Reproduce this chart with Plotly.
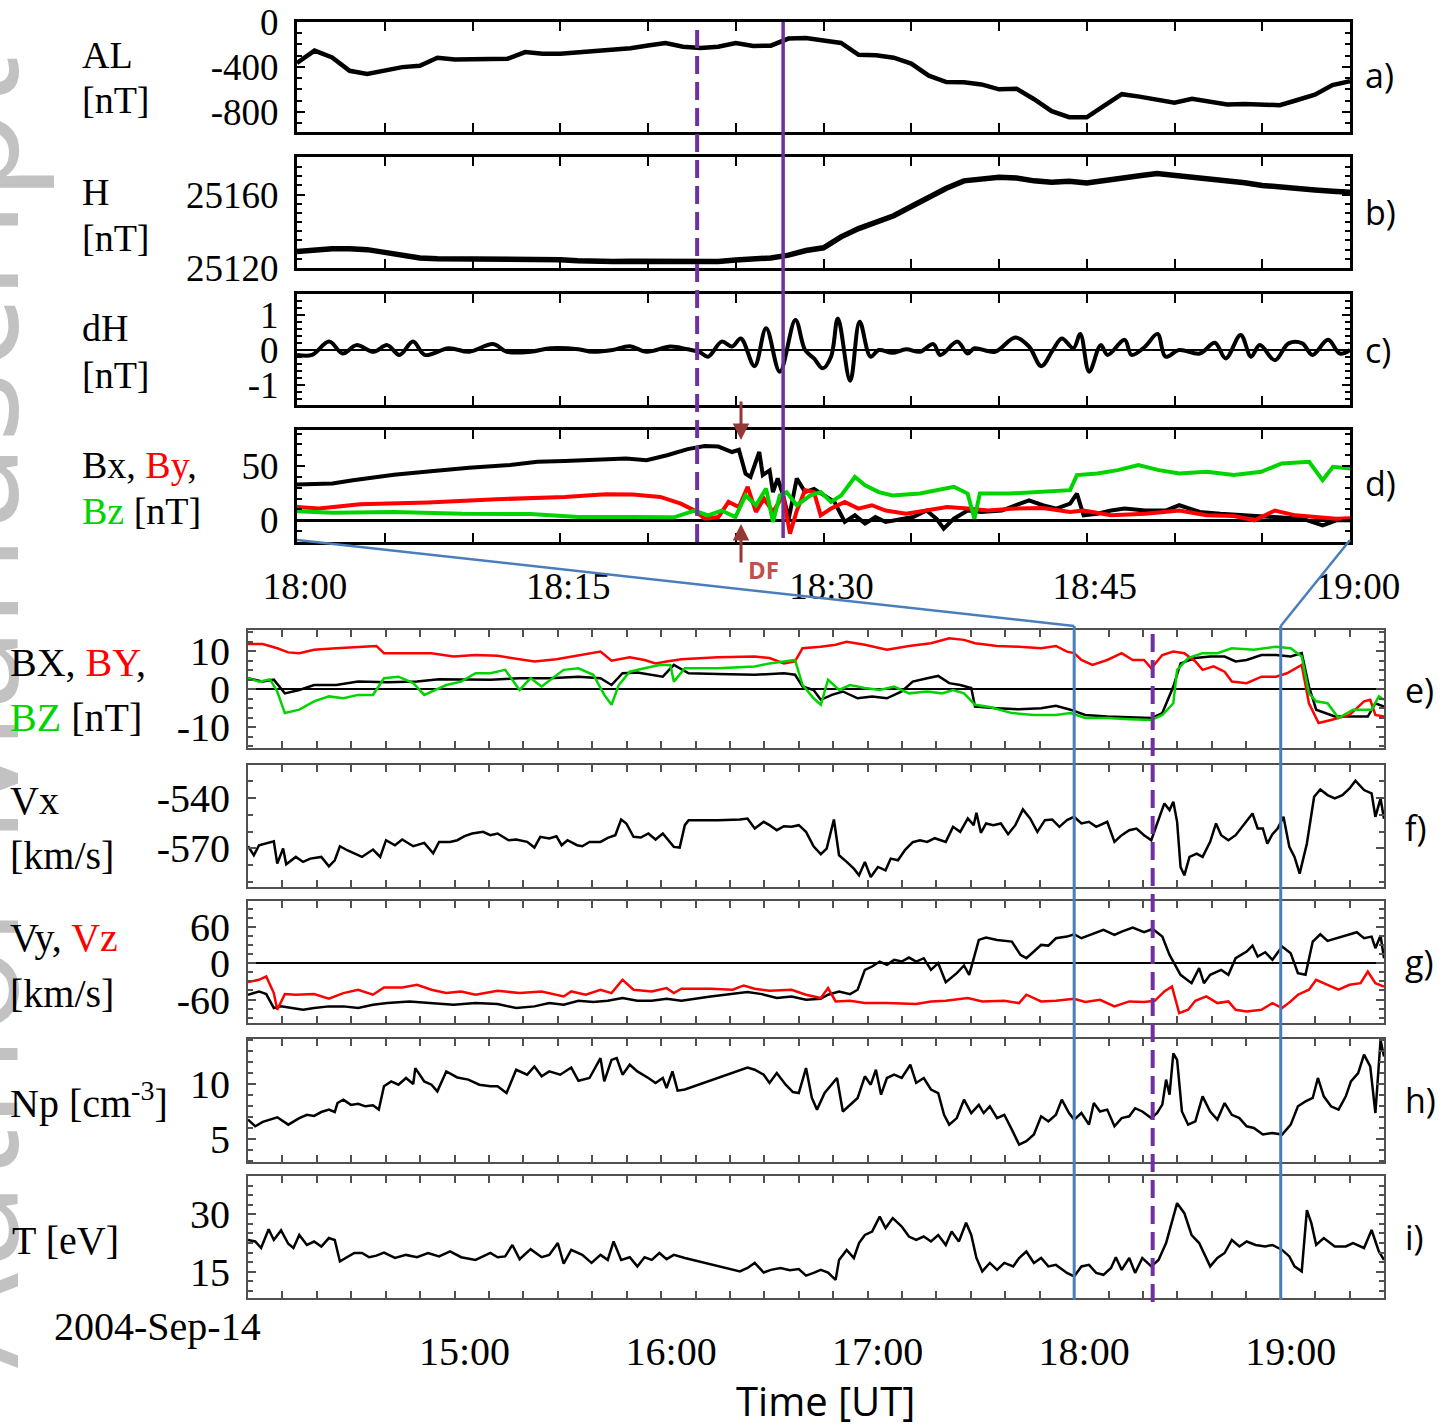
import pandas as pd
import plotly.graph_objects as go

W, HGT = 1448, 1427
DAY = "2004-09-14"
T0_TOP = pd.Timestamp(f"{DAY} 18:00")
T0_BOT = pd.Timestamp(f"{DAY} 14:00")

# ---------------- ground data, 18:00-19:00 UT (minutes after 18:00) ----------------
AL_MIN = list(range(61))
AL_NT = [-365, -255, -315, -435, -463, -430, -402, -390, -318, -335, -335, -328, -327, -268, -282,
         -282, -272, -258, -245, -233, -210, -188, -220, -232, -220, -187, -213, -211, -148, -143,
         -165, -187, -292, -297, -318, -370, -478, -535, -537, -556, -600, -594, -688, -795, -848,
         -849, -745, -643, -665, -690, -720, -685, -705, -734, -730, -736, -741, -695, -648, -562, -528]

H_MIN = list(range(61))
H_NT = [25129, 25130, 25130.5, 25130.5, 25130, 25128.5, 25127, 25125.5, 25125, 25125, 25125.2,
        25125, 25124.8, 25124.9, 25124.6, 25124.5, 25124, 25123.6, 25123.5, 25123.7, 25123.6,
        25123.8, 25124, 25123.8, 25123.6, 25124.4, 25124.8, 25125.5, 25127, 25129.5, 25131,
        25137, 25141.5, 25144.8, 25148.5, 25153.5, 25158.5, 25163.5, 25167.5, 25168.5, 25169.5,
        25169, 25167.5, 25166.8, 25167.3, 25166.4, 25167.8, 25169.5, 25170.3, 25171.5, 25170.5,
        25170, 25169.2, 25168, 25166.5, 25165, 25164, 25163.5, 25162.5, 25161.8, 25161.3]

DH = [(0, -0.14), (0.86, -0.14), (1.83, 0.24), (2.61, -0.1), (3.39, 0.14), (4.36, -0.05), (5.14, 0.14),
      (5.84, -0.14), (6.61, 0.24), (7.28, -0.14), (8.64, 0.05), (9.81, -0.05), (11.17, 0.17), (11.95, -0.05),
      (13.31, -0.05), (14.47, 0.05), (16.03, 0.02), (16.81, -0.05), (17.98, 0), (18.95, 0.11), (19.92, -0.05),
      (21.28, 0.1), (22.26, 0.02), (22.92, -0.05), (23.42, -0.19), (24.2, 0.24), (24.79, 0.1), (25.29, 0.33),
      (26.07, -0.46), (26.73, 0.62), (27.51, -0.62), (28.4, 0.86), (28.95, 0), (29.46, -0.24), (29.96, -0.52),
      (30.43, -0.19), (30.82, 0.9), (31.52, -0.88), (32.06, 0.81), (32.68, -0.19), (33.15, 0), (33.93, -0.08),
      (34.71, 0.02), (35.49, -0.05), (36.26, 0.17), (36.65, -0.14), (37.63, 0.24), (38.21, -0.1), (38.6, 0.05),
      (39.77, -0.05), (40.93, 0.36), (41.71, 0.1), (42.41, -0.46), (43.07, 0), (43.58, 0.33), (44.24, 0.05),
      (44.63, 0.46), (45.14, -0.62), (45.8, 0.14), (46.19, -0.14), (47.16, 0.29), (47.55, -0.14), (48.33, 0.1),
      (49.03, 0.46), (49.49, -0.19), (50.27, 0), (51.44, -0.1), (52.3, 0.21), (52.92, -0.24), (53.77, 0.43),
      (54.36, -0.19), (54.86, 0.14), (55.72, -0.29), (56.5, 0.19), (57.28, 0.19), (57.86, -0.14), (58.75, 0.29),
      (59.42, -0.1), (60, 0)]

# magnetotail field (minutes after 18:00, nT)
BX_TAIL = [(0, 33), (2.02, 34), (3.19, 37), (5.53, 42), (7.47, 45), (9.81, 48.5), (12.14, 51), (13.7, 54),
           (15.25, 54.6), (17.2, 55.5), (18.75, 57), (19.92, 55.5), (21.09, 60), (22.26, 65.7), (23.23, 68.5),
           (24.01, 68), (24.79, 63), (25.18, 65), (25.56, 43), (25.84, 40), (26.34, 63), (26.54, 41.7),
           (26.93, 46), (27.12, 26), (27.39, 38.6), (27.7, 23), (28.02, 1.5), (28.48, 38.6), (28.95, 26),
           (29.46, 29), (30.04, 23), (30.62, 17), (31.21, -1.5), (31.79, 4.6), (32.37, -3), (32.96, 3),
           (33.54, -1.5), (34.32, 1), (35.1, 3), (35.88, 9), (36.46, 1), (36.85, -7.7), (37.43, 1.5), (38.21, 9),
           (38.99, 7.7), (40.16, 9), (40.93, 13.9), (41.71, 18.5), (42.49, 13.9), (43.27, 10.8), (44.05, 15.4),
           (44.44, 24.7), (44.82, 4.6), (45.6, 6), (46.38, 9), (47.16, 10.8), (48.33, 9), (49.49, 9), (50.27, 13.9),
           (51.44, 7.7), (52.61, 6), (54.16, 4.6), (55.72, 3), (57.28, 1.5), (58.44, -4.6), (59.22, 0), (60, 0)]
BY_TAIL = [(0, 12.3), (1.25, 10.8), (3.58, 14.8), (7.47, 16.4), (11.36, 19.4), (15.25, 21.6), (17.59, 24),
           (19.14, 23.8), (20.7, 21.6), (21.87, 15.4), (22.65, 9), (23.23, 1.5), (24.01, 3), (24.59, 17),
           (25.18, 12.3), (25.68, 30.9), (26.15, 7.7), (26.61, 20), (27.12, 7.7), (27.7, 23), (28.09, -12.3),
           (28.48, 9), (28.95, 27.8), (29.46, 26), (29.84, 4.6), (30.43, 10.8), (31.21, 17), (31.98, 10.8),
           (32.76, 13.9), (33.54, 9), (34.71, 6), (35.88, 9), (37.04, 12.3), (38.21, 10.8), (39.38, 9),
           (40.93, 10.8), (42.49, 11.4), (44.05, 7.7), (44.82, 9), (46.38, 4.6), (48.33, 6), (50.27, 9),
           (51.83, 4.6), (53.39, 4), (54.55, 0), (55.72, 9), (56.89, 4.6), (58.05, 3), (59.22, 1.5), (60, 2)]
BZ_TAIL = [(0, 8.3), (2.02, 7), (5.53, 7.7), (9.42, 6), (13.31, 5.9), (16.03, 3), (19.14, 3), (21.48, 2.8),
           (22.65, 9), (23.42, 4.6), (24.2, 9), (24.98, 3), (25.56, 23), (26.15, 13.9), (26.73, 29.3),
           (27.12, -1.5), (27.51, 23), (27.9, 26), (28.48, 13.9), (29.26, 23), (29.84, 26), (30.43, 17),
           (31.01, 23), (31.79, 40), (32.37, 32.4), (33.15, 26), (33.93, 23), (35.49, 24.7), (37.43, 30.9),
           (38.21, 24.7), (38.6, 1.5), (38.91, 24.7), (40.54, 24.7), (42.49, 26.8), (44.05, 27.8), (44.44, 41.7),
           (45.6, 43.2), (46.77, 46.3), (47.94, 51), (49.11, 46.3), (50.27, 43.2), (51.83, 44.7), (53.39, 41.7),
           (54.94, 44.7), (56.11, 52.5), (57.67, 54), (58.44, 37), (59.03, 49.4), (60, 47.8)]

# ---------------- solar wind, 14:00-19:30 UT (minutes after 14:00) ----------------
BX_SW = [(0, 2.9), (4.3, 2.0), (7.5, 2.5), (10.7, -1.1), (14.9, -0.2), (19.2, 1.1), (25.6, 1.1), (32.0, 2.0),
         (40.5, 1.8), (49.1, 2.0), (55.5, 2.6), (61.9, 2.5), (70.4, 2.5), (78.9, 2.9), (87.5, 2.9), (96.0, 3.3),
         (102.4, 2.9), (105.6, 1.1), (108.8, 4.2), (113.1, 4.4), (117.3, 3.8), (120.5, 3.3), (123.7, 6.4),
         (128.0, 4.2), (136.5, 4.0), (147.2, 3.8), (155.7, 4.2), (158.9, 3.8), (161.1, 0.7), (164.3, -0.2),
         (166.4, -2.8), (169.6, -1.5), (172.8, -0.6), (177.1, -2.4), (181.3, -1.9), (185.6, -2.4), (189.9, -0.6),
         (193.1, 2.0), (197.3, 2.9), (200.5, 3.5), (203.7, 1.6), (206.9, 1.1), (210.1, 0.3), (211.2, -4.6),
         (217.6, -5.0), (224.0, -5.3), (230.4, -5.0), (234.7, -4.4), (238.9, -5.4), (243.2, -6.8), (249.6, -7.2),
         (256.0, -7.4), (262.4, -7.6), (265.6, -6.3), (268.8, 0.7), (270.9, 6.8), (275.2, 8.2), (279.5, 8.6),
         (283.7, 8.6), (286.9, 7.3), (290.1, 7.7), (294.4, 9.0), (298.6, 9.0), (302.9, 8.6), (306.1, 9.5),
         (308.2, 0.7), (310.3, -5.4), (315.7, -7.2), (321.0, -7.2), (325.3, -7.2), (327.5, -3.7), (330.0, -4.6)]
BY_SW = [(0, 11.9), (4.3, 11.9), (8.5, 10.8), (11.7, 9.7), (14.9, 9.5), (19.2, 10.4), (25.6, 10.8), (32.0, 11.2),
         (37.3, 11.4), (39.5, 9.5), (46.9, 9.6), (53.3, 9.5), (59.7, 8.6), (66.1, 9.0), (72.5, 8.8), (78.9, 7.9),
         (83.2, 7.3), (89.6, 7.9), (96.0, 8.8), (102.4, 9.9), (105.6, 7.5), (110.9, 8.4), (115.2, 7.7),
         (118.4, 6.8), (121.6, 7.3), (125.9, 7.9), (136.5, 8.4), (147.2, 8.6), (151.5, 8.2), (155.7, 6.8),
         (158.9, 7.3), (161.1, 10.8), (166.4, 11.2), (170.7, 11.7), (173.9, 12.5), (179.2, 11.7), (185.6, 10.4),
         (192.0, 11.4), (198.4, 12.1), (203.7, 13.4), (208.0, 13.0), (211.2, 12.1), (217.6, 11.4), (224.0, 11.2),
         (230.4, 10.8), (234.7, 11.4), (237.9, 9.9), (240.0, 9.5), (242.1, 7.7), (245.3, 6.4), (249.6, 7.7),
         (253.8, 9.5), (257.0, 7.7), (260.3, 7.7), (262.4, 5.5), (265.6, 9.0), (268.8, 9.9), (272.0, 9.5),
         (275.2, 7.3), (277.3, 5.1), (280.5, 6.0), (283.7, 4.6), (285.8, 2.0), (290.1, 1.6), (294.4, 3.3),
         (298.6, 3.3), (301.8, 4.2), (306.1, 6.4), (308.2, -3.7), (311.0, -8.9), (314.6, -8.1), (320.0, -6.8),
         (324.2, -3.2), (326.0, -2.8), (327.5, -6.8), (330.0, -7.2)]
BZ_SW = [(0, 2.9), (3.2, 2.0), (6.4, 2.6), (8.5, -0.6), (10.7, -6.3), (14.9, -5.4), (19.2, -3.2), (23.5, -1.9),
         (27.7, -2.4), (32.0, -1.5), (36.3, -1.5), (39.5, 2.9), (43.7, 3.3), (48.0, 1.6), (51.2, -1.5),
         (54.4, -0.2), (57.6, 1.1), (61.9, 2.0), (66.1, 4.2), (70.4, 4.2), (74.7, 5.1), (78.9, -0.2), (82.1, 2.9),
         (85.3, 0.7), (91.7, 5.1), (96.0, 5.5), (100.3, 3.8), (103.5, -1.5), (105.6, -4.1), (107.7, 1.1),
         (110.9, 4.6), (115.2, 5.5), (119.5, 6.4), (122.7, 6.4), (123.7, 2.0), (126.9, 5.5), (136.5, 5.5),
         (147.2, 6.0), (151.5, 6.8), (155.7, 7.3), (158.9, 7.7), (161.1, 1.1), (164.3, -2.4), (166.4, -4.1),
         (168.5, 2.5), (171.7, -0.2), (174.9, 1.1), (179.2, 0.3), (183.5, -0.2), (187.7, 0.7), (192.0, -1.1),
         (197.3, -0.6), (201.6, -1.1), (204.8, -0.2), (208.0, -1.1), (211.2, -4.1), (215.5, -4.7), (221.9, -6.3),
         (228.3, -6.8), (234.7, -6.8), (238.9, -6.3), (243.2, -7.6), (249.6, -7.6), (256.0, -7.9), (262.4, -8.1),
         (265.6, -6.8), (268.8, -3.7), (269.9, 5.1), (273.1, 8.2), (277.3, 9.5), (281.6, 9.5), (285.8, 10.8),
         (292.2, 10.4), (298.6, 11.2), (302.9, 10.8), (306.1, 8.6), (308.2, -1.1), (310.3, -3.2), (313.6, -3.7),
         (316.8, -7.6), (321.0, -5.4), (326.4, -5.4), (328.5, -1.9), (330.0, -2.8)]

VX_SW = [(0, -568.8), (1.7, -574.2), (3.2, -568.2), (5.3, -567.2), (7.5, -565.8), (8.5, -579.2), (10.2, -570.2),
         (11.1, -579.6), (13.9, -575.2), (16.0, -578.2), (18.1, -576.2), (21.3, -575.2), (23.5, -580.8),
         (25.2, -577.2), (26.7, -568.8), (28.8, -571.2), (30.9, -573.2), (33.1, -575.2), (36.3, -570.8),
         (38.4, -575.2), (40.1, -565.2), (42.7, -568.2), (44.8, -564.8), (48.0, -568.8), (51.2, -566.8),
         (53.8, -573.0), (55.5, -566.2), (58.7, -566.2), (60.8, -565.2), (62.9, -562.8), (65.1, -561.2),
         (68.3, -560.2), (70.4, -562.2), (72.5, -561.2), (75.7, -565.2), (77.9, -564.8), (81.1, -566.2),
         (83.2, -569.6), (84.9, -563.2), (87.5, -564.2), (89.6, -562.8), (91.1, -568.2), (92.8, -565.2),
         (95.6, -568.2), (97.1, -568.8), (99.2, -566.2), (102.4, -566.2), (104.5, -563.8), (106.7, -562.2),
         (108.4, -552.8), (109.9, -555.2), (112.0, -563.2), (114.1, -563.6), (116.3, -561.2), (118.4, -564.8),
         (120.5, -561.2), (123.7, -569.2), (125.4, -569.6), (126.9, -556.2), (128.0, -553.2), (136.5, -553.2),
         (142.9, -552.8), (145.1, -552.2), (147.2, -558.2), (149.8, -554.2), (151.5, -556.2), (153.6, -559.2),
         (155.7, -556.8), (157.9, -557.2), (160.0, -556.2), (162.1, -560.2), (164.3, -568.8), (166.4, -573.6),
         (168.1, -570.2), (170.2, -552.8), (171.7, -574.2), (173.9, -578.2), (176.0, -582.2), (177.5, -586.2),
         (179.2, -578.2), (180.9, -587.2), (183.0, -581.2), (185.2, -583.2), (186.7, -576.2), (188.8, -577.2),
         (190.9, -571.0), (193.1, -566.4), (195.2, -565.2), (197.3, -566.2), (199.5, -564.0), (202.7, -566.2),
         (204.8, -557.2), (206.9, -560.2), (209.1, -552.2), (210.8, -556.2), (211.6, -548.8), (212.9, -560.8),
         (214.4, -555.2), (216.5, -556.2), (218.7, -555.2), (220.8, -561.6), (222.9, -556.2), (225.1, -546.8),
         (227.2, -552.2), (229.3, -560.2), (231.5, -553.2), (233.6, -552.8), (235.7, -557.2), (237.9, -553.2),
         (240.0, -551.2), (242.1, -555.2), (244.3, -554.2), (246.4, -557.2), (249.6, -554.2), (251.7, -566.2),
         (253.8, -562.2), (256.0, -559.2), (258.1, -558.2), (260.3, -562.2), (262.4, -565.2), (264.1, -555.2),
         (266.2, -543.2), (267.7, -547.2), (268.8, -542.2), (269.9, -554.2), (270.9, -581.2), (272.0, -586.2),
         (273.5, -575.2), (275.6, -573.2), (277.3, -575.2), (279.5, -566.2), (281.2, -555.2), (282.7, -562.2),
         (284.8, -565.2), (286.9, -562.2), (289.1, -556.2), (291.8, -549.2), (293.3, -558.2), (294.8, -558.2),
         (296.1, -567.2), (297.6, -561.6), (299.1, -558.2), (300.8, -551.2), (302.5, -569.2), (304.0, -575.2),
         (305.5, -585.2), (307.6, -567.2), (309.7, -539.2), (311.5, -534.8), (313.6, -538.2), (315.7, -540.2),
         (317.9, -538.2), (320.0, -534.2), (321.7, -529.6), (324.2, -535.2), (326.4, -537.2), (327.5, -551.2),
         (329.0, -540.2), (330.0, -552.4)]

VY_SW = [(0, -52.0), (3.2, -46.6), (5.3, -51.0), (7.5, -74.0), (9.6, -71.2), (12.8, -74.0), (16.0, -76.7),
         (19.2, -74.0), (23.5, -71.2), (27.7, -71.2), (32.0, -74.0), (36.3, -68.5), (40.5, -65.8), (46.9, -63.0),
         (53.3, -65.8), (59.7, -68.5), (66.1, -65.8), (72.5, -67.4), (77.9, -74.0), (83.2, -71.2), (87.5, -65.8),
         (91.7, -68.5), (96.0, -62.0), (100.3, -64.1), (104.5, -62.0), (108.8, -57.5), (113.1, -62.0),
         (117.3, -62.0), (121.6, -58.6), (125.9, -62.0), (134.4, -54.8), (145.1, -47.7), (149.3, -51.0),
         (153.6, -57.5), (157.9, -54.8), (162.1, -60.3), (166.4, -58.6), (168.5, -52.0), (171.7, -46.6),
         (174.9, -51.0), (177.1, -43.8), (179.2, -11.0), (181.3, -5.5), (183.5, 2.7), (185.6, -2.7), (187.7, 5.5),
         (189.9, 2.7), (192.0, 9.3), (194.1, 2.7), (196.3, 8.2), (198.4, -11.0), (200.5, 0.0), (202.7, -31.2),
         (205.9, -16.4), (208.0, -3.8), (209.5, -19.2), (212.3, 38.4), (214.4, 42.2), (217.6, 38.4), (221.9, 35.6),
         (224.4, 13.7), (226.1, 8.2), (228.3, 19.2), (230.4, 30.1), (232.5, 29.0), (234.7, 41.1), (237.9, 43.8),
         (240.0, 47.7), (242.1, 41.1), (245.3, 47.7), (248.5, 54.8), (251.7, 46.6), (253.8, 52.1), (257.0, 58.6),
         (260.3, 51.0), (262.8, 56.4), (265.6, 43.8), (267.7, 13.7), (270.9, -19.2), (274.1, -32.9), (276.3, -8.2),
         (277.7, -32.9), (279.5, -19.2), (282.7, -11.0), (284.8, -19.2), (286.9, 8.2), (290.1, 19.2), (291.8, 29.0),
         (293.3, 11.0), (295.5, 18.1), (297.6, 5.5), (300.4, 27.4), (302.9, 16.4), (305.0, -16.4), (307.2, -19.2),
         (309.3, 35.6), (311.5, 47.7), (313.6, 36.7), (316.8, 42.2), (320.0, 46.6), (322.1, 51.0), (324.2, 41.1),
         (326.4, 43.8), (327.5, 24.7), (329.0, 45.5), (330.0, 8.2)]
VZ_SW = [(0, -31.2), (3.2, -27.4), (5.3, -21.9), (7.5, -49.3), (8.5, -76.7), (10.7, -51.0), (13.9, -52.0),
         (19.2, -51.0), (23.5, -58.6), (27.7, -49.3), (32.0, -43.8), (36.3, -52.0), (39.5, -40.0), (44.8, -40.0),
         (49.1, -35.6), (53.3, -43.8), (57.6, -49.3), (61.9, -46.6), (66.1, -52.0), (72.5, -45.5), (78.9, -49.3),
         (85.3, -46.6), (91.7, -54.8), (93.9, -46.6), (98.1, -52.0), (102.4, -43.8), (105.6, -49.3), (108.8, -27.4),
         (112.0, -43.8), (117.3, -46.6), (121.6, -41.1), (123.7, -49.3), (125.9, -42.2), (134.4, -42.2),
         (140.8, -43.8), (144.0, -36.7), (147.2, -42.2), (151.5, -45.5), (157.9, -43.8), (162.1, -52.0),
         (166.4, -57.5), (168.5, -41.1), (170.7, -63.0), (174.9, -62.0), (179.2, -65.8), (185.6, -65.8),
         (194.1, -67.4), (198.4, -63.0), (202.7, -62.0), (209.1, -57.5), (213.3, -63.0), (219.7, -62.0),
         (224.0, -65.8), (226.1, -52.0), (230.4, -63.0), (234.7, -62.0), (240.0, -58.6), (243.2, -64.1),
         (247.5, -60.3), (251.7, -71.2), (256.0, -63.0), (260.3, -64.1), (263.4, -62.0), (266.2, -46.6),
         (268.4, -38.4), (270.5, -82.2), (273.1, -76.7), (275.2, -62.0), (278.4, -54.8), (281.6, -65.8),
         (284.8, -63.0), (286.9, -76.7), (290.1, -79.5), (294.4, -76.7), (297.6, -65.8), (300.4, -74.0),
         (302.9, -63.0), (305.0, -52.0), (308.2, -43.8), (310.3, -27.4), (313.6, -35.6), (316.8, -43.8),
         (320.0, -35.6), (323.2, -32.9), (325.3, -13.7), (327.5, -32.9), (330.0, -38.4)]

NP_SW = [(0, 6.76), (2.1, 6.15), (4.3, 6.55), (6.4, 6.76), (8.5, 6.97), (11.7, 6.3), (14.9, 6.9), (17.1, 7.2),
         (19.2, 7.1), (21.3, 7.45), (23.5, 7.67), (25.2, 7.45), (26.0, 8.27), (27.7, 8.58), (29.9, 8.1), (32.0, 8.2),
         (34.1, 7.97), (36.3, 8.06), (38.0, 7.67), (39.5, 9.8), (41.6, 10.24), (43.7, 9.94), (45.9, 10.55),
         (48.0, 10.0), (48.6, 11.45), (51.2, 10.24), (53.3, 9.94), (55.0, 9.33), (57.6, 11.15), (60.8, 10.6),
         (64.0, 10.4), (67.2, 9.94), (70.4, 9.8), (72.5, 9.8), (75.1, 9.18), (77.9, 11.3), (81.1, 10.85),
         (83.2, 11.6), (85.3, 10.7), (87.5, 11.15), (90.7, 10.85), (93.9, 11.5), (96.0, 10.3), (99.2, 10.55),
         (102.4, 12.36), (103.5, 10.24), (105.6, 12.2), (107.1, 12.36), (108.8, 10.85), (110.9, 11.76),
         (113.1, 11.15), (116.3, 10.55), (118.4, 10.1), (120.5, 10.55), (121.6, 9.64), (123.3, 11.15), (124.8, 9.4),
         (126.9, 9.5), (142.9, 11.3), (145.1, 11.5), (147.2, 11.3), (149.8, 10.85), (151.5, 10.1), (153.6, 11.0),
         (156.2, 9.94), (158.3, 9.27), (160.0, 9.18), (162.1, 11.45), (163.8, 8.73), (165.3, 7.67), (167.5, 9.18),
         (169.6, 9.94), (171.1, 10.55), (172.8, 7.5), (174.9, 8.12), (177.1, 8.73), (179.2, 10.7), (180.9, 9.94),
         (182.4, 11.3), (183.9, 9.03), (185.6, 10.55), (187.7, 10.85), (189.9, 10.55), (192.4, 11.76),
         (194.1, 10.1), (196.3, 10.55), (198.4, 9.5), (200.5, 9.18), (202.2, 7.2), (203.7, 6.3), (205.9, 6.9),
         (208.0, 8.58), (210.1, 7.36), (212.3, 8.1), (213.7, 7.36), (215.5, 7.97), (217.6, 6.9), (219.7, 7.2),
         (221.9, 5.85), (224.0, 4.48), (226.1, 4.79), (228.3, 5.4), (230.4, 7.06), (232.5, 6.6), (234.7, 7.2),
         (236.4, 8.58), (238.5, 7.36), (240.0, 6.76), (242.1, 7.36), (244.3, 6.3), (245.7, 8.27), (247.5, 7.5),
         (249.6, 7.67), (251.7, 6.15), (253.8, 6.9), (256.0, 7.06), (257.7, 7.8), (259.8, 7.5), (262.4, 6.9),
         (264.1, 7.36), (265.6, 8.12), (266.7, 10.4), (267.7, 9.03), (268.8, 12.8), (269.9, 12.2), (271.3, 7.5),
         (273.1, 6.3), (275.2, 6.6), (277.3, 8.88), (279.5, 7.5), (281.6, 6.76), (283.7, 8.27), (285.8, 7.2),
         (288.0, 6.9), (290.1, 6.15), (292.2, 6.0), (294.8, 5.4), (297.6, 5.55), (300.4, 5.4), (302.9, 6.3),
         (305.0, 7.97), (307.2, 8.42), (309.3, 8.73), (310.8, 10.55), (312.5, 8.88), (314.6, 7.97), (316.8, 7.67),
         (318.9, 8.88), (320.4, 10.24), (322.5, 11.0), (324.2, 12.67), (326.0, 11.6), (327.5, 7.36), (329.0, 14.0),
         (330.0, 12.5)]

T_SW = [(0, 23.3), (2.1, 22.9), (3.8, 21.2), (6.0, 26.1), (7.5, 23.3), (9.6, 25.8), (11.7, 22.3), (13.2, 21.2),
        (14.9, 24.6), (17.1, 22.0), (19.2, 22.9), (21.3, 21.6), (23.5, 23.8), (25.2, 23.3), (26.7, 17.7),
        (28.8, 18.8), (30.9, 19.9), (33.1, 19.9), (35.2, 18.8), (37.3, 19.2), (39.5, 20.0), (42.7, 18.6),
        (45.9, 19.4), (49.1, 18.8), (52.3, 19.9), (55.5, 19.0), (58.7, 20.3), (61.9, 18.8), (66.1, 18.1),
        (70.4, 19.9), (72.5, 18.8), (74.7, 19.0), (76.8, 22.0), (78.9, 18.3), (82.1, 20.9), (85.3, 18.8),
        (87.5, 19.4), (90.0, 22.5), (91.7, 17.1), (93.9, 20.7), (97.1, 19.4), (99.8, 17.3), (102.4, 19.4),
        (104.5, 18.1), (106.2, 22.9), (108.4, 18.1), (110.9, 18.8), (113.1, 16.4), (115.2, 18.8), (117.3, 18.1),
        (119.5, 19.9), (121.6, 18.3), (123.7, 19.4), (126.9, 18.6), (142.9, 15.1), (145.1, 16.0), (147.2, 17.3),
        (149.8, 14.8), (151.9, 15.5), (154.7, 16.0), (157.4, 15.4), (160.0, 15.7), (162.1, 14.0), (164.3, 14.7),
        (166.4, 15.5), (168.5, 14.8), (170.7, 12.9), (171.7, 18.1), (173.9, 20.7), (176.0, 18.6), (177.5, 22.5),
        (179.2, 24.6), (181.3, 25.5), (183.5, 29.4), (185.2, 26.4), (187.3, 29.0), (189.9, 26.8), (192.0, 24.2),
        (194.1, 23.3), (196.3, 24.2), (198.4, 22.9), (200.5, 24.6), (202.7, 22.0), (204.4, 25.5), (206.5, 22.9),
        (208.6, 27.8), (210.1, 24.6), (211.6, 18.6), (213.3, 15.1), (215.5, 17.3), (217.6, 15.5), (219.7, 17.3),
        (222.3, 16.4), (224.0, 18.6), (226.1, 20.3), (228.3, 17.3), (230.4, 18.6), (232.5, 16.4), (234.7, 16.8),
        (237.9, 14.7), (240.0, 13.8), (242.1, 16.4), (244.3, 16.8), (246.4, 14.7), (248.5, 14.2), (250.7, 16.0),
        (252.1, 18.8), (253.8, 15.5), (256.0, 18.6), (257.7, 14.7), (259.8, 18.6), (262.4, 16.4), (264.5, 18.1),
        (266.7, 22.5), (268.4, 27.7), (269.9, 32.9), (272.0, 30.3), (274.1, 24.6), (276.3, 22.5), (277.7, 19.9),
        (279.5, 16.4), (281.6, 18.6), (283.7, 19.9), (285.8, 23.3), (288.0, 21.6), (290.1, 22.9), (292.7, 22.0),
        (295.5, 21.6), (297.6, 22.0), (300.4, 20.7), (302.5, 19.0), (304.0, 16.4), (306.1, 15.1), (307.6, 31.1),
        (308.9, 27.7), (310.3, 22.0), (312.5, 23.8), (315.7, 21.6), (318.9, 21.6), (321.0, 22.5), (324.2, 21.2),
        (326.4, 25.9), (328.5, 20.3), (330.0, 18.1)]

# event times (minutes after 18:00)
ONSET_DASHED_MIN = 22.8
ONSET_SOLID_MIN = 27.7
DF_MIN = 25.3
# hour labels on the solar-wind time axis
SW_HOURS = ["15:00", "16:00", "17:00", "18:00", "19:00"]

BLACK, RED, GREEN = "#000000", "#ff0000", "#00d400"
PURPLE, BLUE, BROWN = "#7030a0", "#4a7ebb", "#953735"
SERIF, SANS = "Liberation Serif", "Open Sans"


def when(t0, minutes):
    return t0 + pd.to_timedelta(list(minutes), unit="min")


def split(pairs):
    return [p[0] for p in pairs], [p[1] for p in pairs]


def px(x):
    return x / W


def py(y):
    return 1 - y / HGT


TOP_DOM = [px(297), px(1350)]
BOT_DOM = [px(248), px(1384)]

# panel: (y-domain in pixels, range, tick values, minor step, zero line width, top group?)
PANELS = [
    ((22, 132), [-980, 0], [0, -400, -800], 100, 0, True),
    ((157, 268), [25120, 25180.5], [25120, 25160], 5, 0, True),
    ((294, 405), [-1.57, 1.6], [-1, 0, 1], 0.2, 2, True),
    ((430, 542), [-20, 83.3], [0, 50], 10, 3, True),
    ((630, 748), [-15.5, 15.6], [-10, 0, 10], 2.5, 1.5, False),
    ((765, 887), [-593.2, -520.2], [-570, -540], 10, 0, False),
    ((901, 1023), [-98.6, 102.5], [-60, 0, 60], 15, 1.5, False),
    ((1039, 1162), [2.9, 14.1], [5, 10], 1, 0, False),
    ((1176, 1298), [8.15, 40], [15, 30], 2.5, 0, False),
]

fig = go.Figure()


def line(panel, t0, minutes, values, color, width, shape="linear"):
    k = "" if panel == 1 else str(panel)
    fig.add_trace(go.Scatter(x=when(t0, minutes), y=values, mode="lines",
                             line=dict(color=color, width=width, shape=shape),
                             xaxis="x" + k, yaxis="y" + k, showlegend=False, hoverinfo="skip"))


line(1, T0_TOP, AL_MIN, AL_NT, BLACK, 4.5)
line(2, T0_TOP, H_MIN, H_NT, BLACK, 5.5)
line(3, T0_TOP, *split(DH), BLACK, 4, "spline")
line(4, T0_TOP, *split(BX_TAIL), BLACK, 4)
line(4, T0_TOP, *split(BY_TAIL), RED, 4)
line(4, T0_TOP, *split(BZ_TAIL), GREEN, 4)
line(5, T0_BOT, *split(BX_SW), BLACK, 2.5)
line(5, T0_BOT, *split(BY_SW), RED, 2.5)
line(5, T0_BOT, *split(BZ_SW), GREEN, 2.5)
line(6, T0_BOT, *split(VX_SW), BLACK, 2.5)
line(7, T0_BOT, *split(VY_SW), BLACK, 2.5)
line(7, T0_BOT, *split(VZ_SW), RED, 2.5)
line(8, T0_BOT, *split(NP_SW), BLACK, 2.5)
line(9, T0_BOT, *split(T_SW), BLACK, 2.5)

hour_vals = [pd.Timestamp(f"{DAY} {h}") for h in SW_HOURS]

layout = {}
for i, (ypix, yr, tv, minor_step, zw, top) in enumerate(PANELS, start=1):
    k = "" if i == 1 else str(i)
    frame_c = BLACK if top else "#505050"
    frame_w = 3 if top else 2
    fsize = 37 if top else 40
    layout["yaxis" + k] = dict(
        domain=[py(ypix[1]), py(ypix[0])], range=yr, anchor="x" + k, automargin=False,
        tickmode="array", tickvals=tv, ticktext=[f"{v:g}" for v in tv],
        ticks="inside", ticklen=8, tickwidth=2, tickcolor=frame_c,
        minor=dict(tickmode="linear", tick0=0, dtick=minor_step, ticks="inside",
                   ticklen=5, tickwidth=1.5, tickcolor=frame_c),
        showline=True, linecolor=frame_c, linewidth=frame_w, mirror="ticks",
        showgrid=False, zeroline=zw > 0, zerolinecolor=BLACK, zerolinewidth=max(zw, 1),
        tickfont=dict(family=SERIF, size=fsize, color=BLACK), ticklabelstandoff=8,
    )
    if top:
        xa = dict(domain=TOP_DOM, range=[T0_TOP, T0_TOP + pd.Timedelta(minutes=60)],
                  tickmode="linear", tick0=T0_TOP, dtick=15 * 60 * 1000, tickformat="%H:%M",
                  minor=dict(dtick=5 * 60 * 1000, ticks="inside", ticklen=9, tickwidth=2, tickcolor=BLACK),
                  ticklen=9, tickwidth=2, showticklabels=(i == 4),
                  tickfont=dict(family=SERIF, size=37, color=BLACK),
                  ticklabelstandoff=10, ticklabelshift=8)
    else:
        xa = dict(domain=BOT_DOM, range=[T0_BOT, T0_BOT + pd.Timedelta(minutes=330)],
                  tickmode="array", tickvals=hour_vals, ticktext=SW_HOURS,
                  minor=dict(tickmode="linear", tick0=T0_BOT, dtick=10 * 60 * 1000, ticks="inside",
                             ticklen=7, tickwidth=1.5, tickcolor=frame_c),
                  ticklen=7, tickwidth=1.5, showticklabels=(i == 9),
                  tickfont=dict(family=SERIF, size=40, color=BLACK),
                  ticklabelstandoff=17, ticklabelshift=10)
    xa.update(anchor="y" + k, ticks="inside", tickcolor=frame_c, showline=True, linecolor=frame_c,
              linewidth=frame_w, mirror="ticks", showgrid=False, zeroline=False, automargin=False)
    layout["xaxis" + k] = xa


def bot_x(minutes):
    return BOT_DOM[0] + minutes / 330 * (BOT_DOM[1] - BOT_DOM[0])


t_dash = T0_TOP + pd.Timedelta(minutes=ONSET_DASHED_MIN)
t_solid = T0_TOP + pd.Timedelta(minutes=ONSET_SOLID_MIN)
shapes = [
    dict(type="line", xref="x", yref="paper", x0=t_dash, x1=t_dash, y0=py(542), y1=py(22),
         line=dict(color=PURPLE, width=4, dash="18px,8px")),
    dict(type="line", xref="x", yref="paper", x0=t_solid, x1=t_solid, y0=py(538), y1=py(22),
         line=dict(color=PURPLE, width=3.5)),
    dict(type="line", xref="paper", yref="paper", x0=TOP_DOM[0], y0=py(540), x1=bot_x(240), y1=py(626),
         line=dict(color=BLUE, width=2.5)),
    dict(type="line", xref="paper", yref="paper", x0=TOP_DOM[1], y0=py(540), x1=bot_x(300), y1=py(626),
         line=dict(color=BLUE, width=2.5)),
]
for hour_min in (240, 300):
    tt = T0_BOT + pd.Timedelta(minutes=hour_min)
    shapes.append(dict(type="line", xref="x5", yref="paper", x0=tt, x1=tt, y0=py(1300), y1=py(626),
                       line=dict(color=BLUE, width=3)))
shapes.append(dict(type="line", xref="x5", yref="paper", x0=t_dash, x1=t_dash, y0=py(1302), y1=py(628),
                   line=dict(color=PURPLE, width=4, dash="18px,8px")))

ann = [dict(text="Author Manuscript", x=px(-40), y=py(712), xref="paper", yref="paper",
            xanchor="center", yanchor="middle", textangle=-90, showarrow=False,
            font=dict(family=SANS, size=150, color="#c2c2c2"))]


def label(text, x, y, size=38, family=SERIF, color=BLACK, anchor="left"):
    ann.append(dict(text=text, x=px(x), y=py(y), xref="paper", yref="paper", xanchor=anchor,
                    yanchor="middle", showarrow=False, font=dict(family=family, size=size, color=color)))


red = lambda s: f"<span style='color:{RED}'>{s}</span>"
green = lambda s: f"<span style='color:{GREEN}'>{s}</span>"

label("AL", 80, 55); label("[nT]", 80, 100)
label("H", 80, 192); label("[nT]", 80, 238)
label("dH", 80, 328); label("[nT]", 80, 375)
label("Bx, " + red("By") + ",", 80, 465); label(green("Bz") + " [nT]", 80, 511)
label("BX, " + red("BY") + ",", 8, 662, 40); label(green("BZ") + " [nT]", 8, 718, 40)
label("Vx", 8, 800, 40); label("[km/s]", 8, 855, 40)
label("Vy, " + red("Vz"), 8, 937, 40); label("[km/s]", 8, 993, 40)
label("Np [cm<sup>-3</sup>]", 8, 1100, 40)
label("T [eV]", 10, 1240, 40)
label("2004-Sep-14", 52, 1326, 40)

for letter, x, y in [("a)", 1363, 75), ("b)", 1363, 212), ("c)", 1363, 350), ("d)", 1363, 483),
                     ("e)", 1403, 690), ("f)", 1403, 828), ("g)", 1403, 962), ("h)", 1403, 1100),
                     ("i)", 1403, 1237)]:
    label(letter, x, y, 34, SANS)

label("Time [UT]", 825, 1400, 40, SANS, anchor="center")
label("<b>DF</b>", 746, 569, 24, SANS, "#c0504d")

t_df = T0_TOP + pd.Timedelta(minutes=DF_MIN)
for tip, tail in ((440, -40), (524, 40)):
    ann.append(dict(x=t_df, y=py(tip), xref="x4", yref="paper", text="", showarrow=True,
                    ax=0, ay=tail, arrowhead=2, arrowsize=1.1, arrowwidth=3, arrowcolor=BROWN))

fig.update_layout(width=W, height=HGT, margin=dict(l=0, r=0, t=0, b=0, autoexpand=False), autosize=False,
                  paper_bgcolor="white", plot_bgcolor="white", showlegend=False,
                  shapes=shapes, annotations=ann, **layout)

fig.write_html("out.html")
